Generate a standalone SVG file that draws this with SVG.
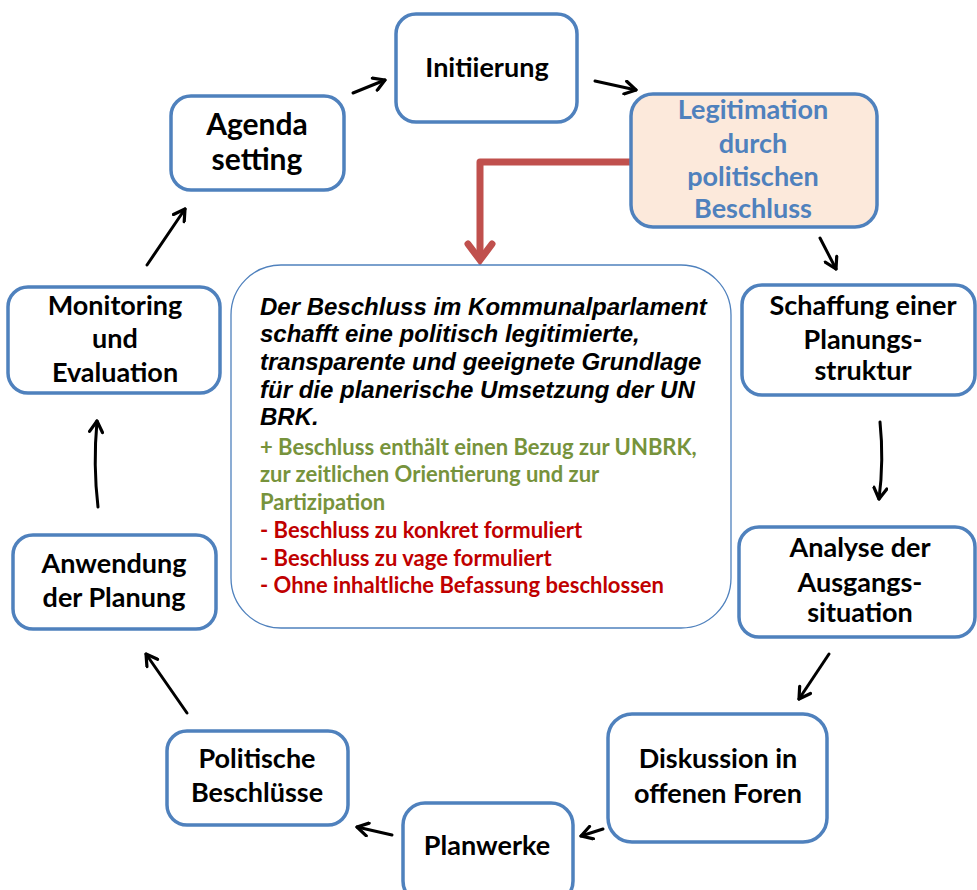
<svg xmlns="http://www.w3.org/2000/svg" width="977" height="890" viewBox="0 0 977 890">
<style>
.box{fill:#fff;stroke:#4F81BD;stroke-width:3.5}
.lbl{font-family:Lato,"Open Sans","Liberation Sans",sans-serif;font-weight:bold;font-size:27px;fill:#000;text-anchor:middle}
.conn{fill:none;stroke:#000;stroke-width:3;stroke-linecap:round}
.it{font-family:"Liberation Sans",Arial,sans-serif;font-weight:bold;font-style:italic;font-size:24px;fill:#000}
.gr{font-family:Lato,"Open Sans",sans-serif;font-weight:bold;font-size:22px;fill:#77933C}
.rd{font-family:Lato,"Open Sans",sans-serif;font-weight:bold;font-size:22px;fill:#C00000}
</style>
<defs>
<marker id="ah" viewBox="0 0 16 16" refX="13" refY="8" markerWidth="16" markerHeight="16" markerUnits="userSpaceOnUse" orient="auto">
<path d="M2,1.5 L13,8 L2,14.5" fill="none" stroke="#000" stroke-width="3.2" stroke-linecap="round" stroke-linejoin="round"/>
</marker>
</defs>
<rect width="977" height="890" fill="#fff"/>

<g id="connectors">
<path class="conn" d="M147,265 L185,209" marker-end="url(#ah)"/>
<path class="conn" d="M353,93 L385,80" marker-end="url(#ah)"/>
<path class="conn" d="M595,81 L636,90" marker-end="url(#ah)"/>
<path class="conn" d="M820,238 L836,269" marker-end="url(#ah)"/>
<path class="conn" d="M880,422 Q884,460 879,499" marker-end="url(#ah)"/>
<path class="conn" d="M829,654 L799,699" marker-end="url(#ah)"/>
<path class="conn" d="M603,829 L581,836" marker-end="url(#ah)"/>
<path class="conn" d="M392,835 L357,827" marker-end="url(#ah)"/>
<path class="conn" d="M187,713 L146,654" marker-end="url(#ah)"/>
<path class="conn" d="M98,507 Q93,465 97,421" marker-end="url(#ah)"/>
<path d="M632,162 L480,162 L480,260" fill="none" stroke="#C0504D" stroke-width="7" stroke-linejoin="round"/>
<path d="M468,244 L480,260 L492,244" fill="none" stroke="#C0504D" stroke-width="7" stroke-linecap="round" stroke-linejoin="miter"/>
</g>

<g id="initiierung">
<rect class="box" x="396" y="14" width="181" height="108" rx="20"/>
<text class="lbl" x="487" y="77">Initiierung</text>
</g>

<g id="legitimation">
<rect x="631" y="94" width="246" height="133" rx="22" fill="#FCE9DB" stroke="#4F81BD" stroke-width="3.5"/>
<text class="lbl" x="753" y="119" style="fill:#4F81BD">Legitimation</text>
<text class="lbl" x="753" y="153" style="fill:#4F81BD">durch</text>
<text class="lbl" x="753" y="186" style="fill:#4F81BD">politischen</text>
<text class="lbl" x="753" y="218" style="fill:#4F81BD">Beschluss</text>
</g>

<g id="agenda">
<rect class="box" x="171" y="96" width="173" height="94" rx="20"/>
<text class="lbl" x="257" y="135" style="font-size:30px">Agenda</text>
<text class="lbl" x="257" y="170" style="font-size:30px">setting</text>
</g>

<g id="monitoring">
<rect class="box" x="8" y="287" width="212" height="106" rx="20"/>
<text class="lbl" x="115" y="315">Monitoring</text>
<text class="lbl" x="115" y="348">und</text>
<text class="lbl" x="115" y="382">Evaluation</text>
</g>

<g id="schaffung">
<rect class="box" x="742" y="285" width="233" height="110" rx="20"/>
<text class="lbl" x="863" y="315">Schaffung einer</text>
<text class="lbl" x="863" y="349">Planungs-</text>
<text class="lbl" x="863" y="380">struktur</text>
</g>

<g id="analyse">
<rect class="box" x="739" y="527" width="236" height="110" rx="20"/>
<text class="lbl" x="860" y="557">Analyse der</text>
<text class="lbl" x="860" y="592">Ausgangs-</text>
<text class="lbl" x="860" y="622">situation</text>
</g>

<g id="diskussion">
<rect class="box" x="608" y="714" width="219" height="128" rx="24"/>
<text class="lbl" x="718" y="768">Diskussion in</text>
<text class="lbl" x="718" y="803">offenen Foren</text>
</g>

<g id="planwerke">
<rect class="box" x="403" y="803" width="170" height="100" rx="22"/>
<text class="lbl" x="487" y="855">Planwerke</text>
</g>

<g id="politische">
<rect class="box" x="167" y="731" width="181" height="94" rx="20"/>
<text class="lbl" x="257" y="768">Politische</text>
<text class="lbl" x="257" y="802">Beschlüsse</text>
</g>

<g id="anwendung">
<rect class="box" x="13" y="535" width="203" height="94" rx="20"/>
<text class="lbl" x="114" y="573">Anwendung</text>
<text class="lbl" x="114" y="607">der Planung</text>
</g>

<g id="beschreibung">
<rect x="231" y="265" width="500" height="363" rx="50" fill="#fff" stroke="#4F81BD" stroke-width="1.3"/>
<text class="it" x="260" y="315">Der Beschluss im Kommunalparlament</text>
<text class="it" x="260" y="342">schafft eine politisch legitimierte,</text>
<text class="it" x="260" y="370">transparente und geeignete Grundlage</text>
<text class="it" x="260" y="398">für die planerische Umsetzung der UN</text>
<text class="it" x="260" y="425">BRK.</text>
<text class="gr" x="260" y="455">+ Beschluss enthält einen Bezug zur UNBRK,</text>
<text class="gr" x="260" y="482">zur zeitlichen Orientierung und zur</text>
<text class="gr" x="260" y="510">Partizipation</text>
<text class="rd" x="260" y="538">- Beschluss zu konkret formuliert</text>
<text class="rd" x="260" y="566">- Beschluss zu vage formuliert</text>
<text class="rd" x="260" y="593">- Ohne inhaltliche Befassung beschlossen</text>
</g>
</svg>
